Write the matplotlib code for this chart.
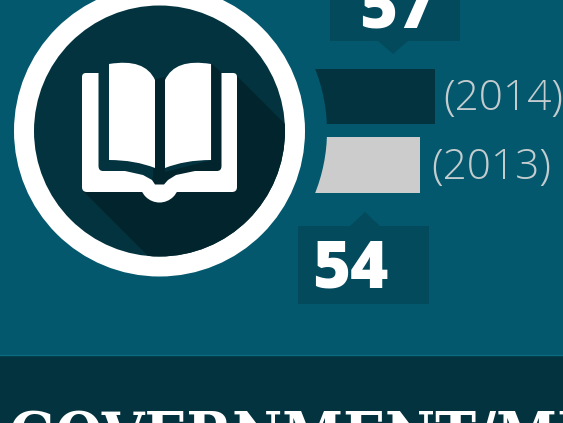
import matplotlib
matplotlib.use("Agg")
import matplotlib.pyplot as plt
from matplotlib.patches import Circle, Polygon, Rectangle, PathPatch
from matplotlib.path import Path

years = ["2014", "2013"]
values = [57, 54]
bar_colors = ["#02333f", "#cccccc"]

BG = "#03586d"
DARK = "#03333f"
SHADOW = "#02242d"
BOX = "#034a5c"
W = "#ffffff"

fig = plt.figure(figsize=(5.63, 4.23), dpi=100, facecolor=BG)
ax = fig.add_axes([0, 0, 1, 1])
ax.set_xlim(0, 563); ax.set_ylim(423, 0); ax.axis("off")

# value scale: 5 px per unit, zero at x=150
x0, k = 150, 5
tops = [69, 137.5]
hs = [55.5, 55.5]
for v, c, t, h in zip(values, bar_colors, tops, hs):
    ax.barh(t + h / 2, v * k, height=h, left=x0, color=c, linewidth=0, zorder=1)
ax.add_patch(Circle((159, 131), 168, fc=BG, ec="none", zorder=2))

# year labels
for y, v, t, off in zip(years, values, [98.5, 168], [8, 11.5]):
    ax.text(x0 + v * k + off, t, f"({y})", color="#c4cccf", fontsize=30.5,
            family="Open Sans", fontweight="light", va="center", ha="left", zorder=5)

# callouts
ax.add_patch(Polygon([(330, -5), (460, -5), (460, 41), (408, 41), (393, 54), (378, 41), (330, 41)],
                     fc=BOX, ec="none", zorder=3))
ax.add_patch(Polygon([(298, 226), (350, 226), (365, 212), (380, 226), (429, 226), (429, 304), (298, 304)],
                     fc=BOX, ec="none", zorder=3))
ax.text(359, 27, str(values[0]), color=W, fontsize=47, family="Open Sans", fontweight="extra bold",
        va="baseline", ha="left", zorder=5)
ax.text(312, 288, str(values[1]), color=W, fontsize=47, family="Open Sans", fontweight="extra bold",
        va="baseline", ha="left", zorder=5)

# badge
ax.add_patch(Circle((159.5, 131), 145.5, fc=W, ec="none", zorder=3))
dark = Circle((159.5, 131), 125.5, fc=DARK, ec="none", zorder=4)
ax.add_patch(dark)
shadow = Polygon([(212, 64), (222, 73), (235, 74), (345, 184), (345, 320), (212, 320), (83, 191),
                  (150, 191), (153, 176), (155, 79), (165, 77), (165, 172), (212, 160)],
                 fc=SHADOW, ec="none", zorder=5)
ax.add_patch(shadow)
shadow.set_clip_path(dark)

# book cover
verts = [(86, 73), (98.5, 73), (98.5, 166), (98.5, 171), (103, 171), (125, 171), (143, 175),
         (152, 180), (155, 184.5), (164, 184.5), (168, 180), (176, 175), (195, 171), (217, 171), (221.5, 171),
         (221.5, 166), (221.5, 73), (233, 73), (237, 73), (237, 77), (237, 187), (237, 192), (232, 192),
         (87, 192), (82, 192), (82, 187), (82, 77), (82, 73), (86, 73)]
codes = [Path.MOVETO, Path.LINETO, Path.LINETO, Path.CURVE3, Path.CURVE3, Path.LINETO, Path.LINETO,
         Path.LINETO, Path.LINETO, Path.LINETO, Path.LINETO, Path.LINETO, Path.LINETO, Path.LINETO, Path.CURVE3,
         Path.CURVE3, Path.LINETO, Path.LINETO, Path.CURVE3, Path.CURVE3, Path.LINETO, Path.CURVE3, Path.CURVE3,
         Path.LINETO, Path.CURVE3, Path.CURVE3, Path.LINETO, Path.CURVE3, Path.CURVE3]
ax.add_patch(PathPatch(Path(verts, codes), fc=W, ec="none", zorder=6))

# spine bump under the cover
bump_clip = Rectangle((130, 190), 60, 20, transform=ax.transData)
bump = Circle((159.5, 183), 19.5, fc=W, ec="none", zorder=6)
ax.add_patch(bump)
bump.set_clip_path(bump_clip)

# pages
lp = Path([(109, 64), (145, 58), (155, 80), (155, 168), (135, 160), (109, 160), (109, 64)],
          [Path.MOVETO, Path.CURVE3, Path.CURVE3, Path.LINETO, Path.CURVE3, Path.CURVE3, Path.CLOSEPOLY])
rp = Path([(211, 64), (175, 58), (165, 80), (165, 168), (185, 160), (211, 160), (211, 64)],
          [Path.MOVETO, Path.CURVE3, Path.CURVE3, Path.LINETO, Path.CURVE3, Path.CURVE3, Path.CLOSEPOLY])
ax.add_patch(PathPatch(lp, fc=W, ec="none", zorder=6))
ax.add_patch(PathPatch(rp, fc=W, ec="none", zorder=6))

# bottom band
ax.add_patch(Rectangle((0, 355), 563, 68, fc=DARK, ec="none", zorder=1))
ax.plot([0, 563], [355.5, 355.5], color="#0a6a80", lw=1, zorder=2)
ax.text(9, 456, "GOVERNMENT/MILITARY", color=W, fontsize=44, family="DejaVu Serif", stretch="condensed",
        fontweight="bold", va="baseline", ha="left", zorder=5, clip_on=True)

fig.savefig("out.png", dpi=100, facecolor=BG)
